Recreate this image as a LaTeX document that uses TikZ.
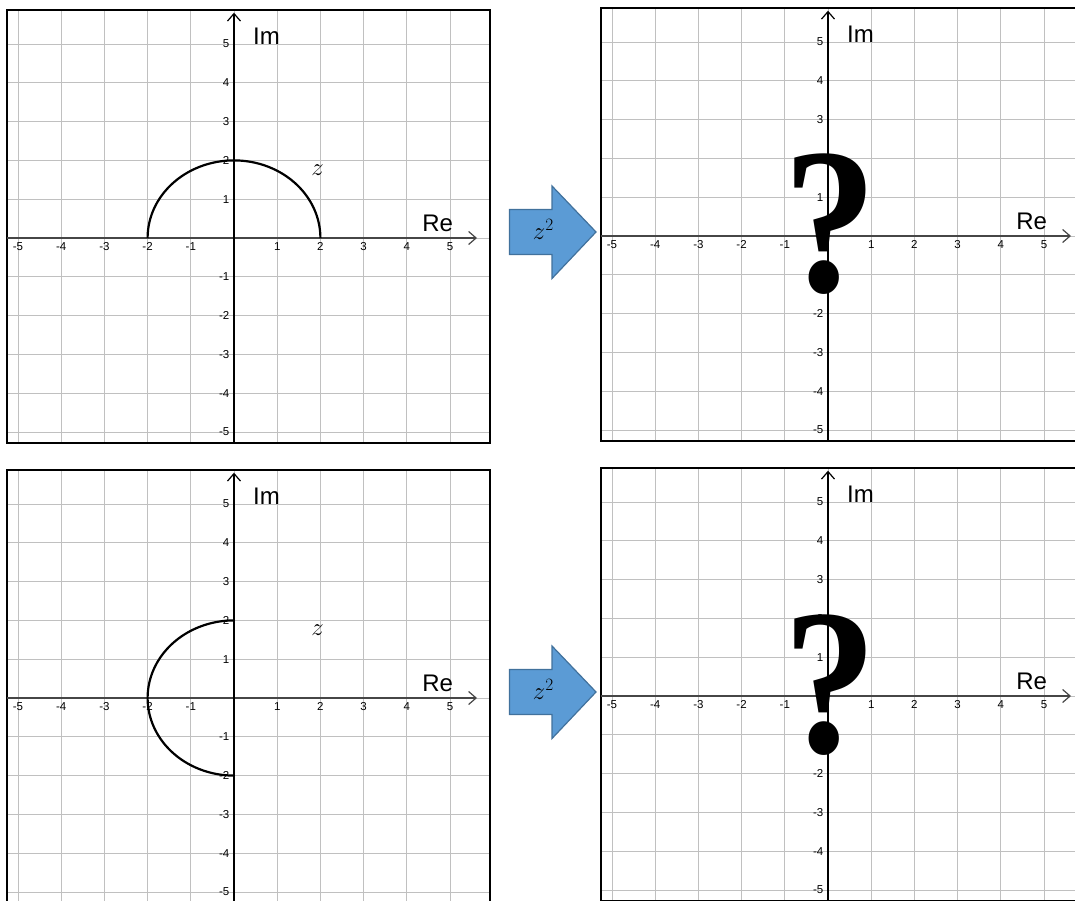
\documentclass[tikz,border=0pt]{standalone}
\usepackage{fontspec}
\setmainfont{Liberation Sans}
\newfontfamily\qfont{Liberation Serif}
\usetikzlibrary{arrows.meta}
\definecolor{gridgray}{RGB}{192,192,192}
\definecolor{arrowfill}{RGB}{91,155,213}
\definecolor{arrowedge}{RGB}{65,113,156}
\definecolor{haxisgray}{RGB}{70,70,70}

\newcommand\drawplane[3]{%
\begin{scope}[shift={(#1,#2)}, x=43.2pt, y=38.8pt]
  \foreach \i in {-5,...,5} {
    \draw[gridline] (\i,-5.284) -- (\i,5.876);
    \draw[gridline] (-5.255,\i) -- (5.926,\i);
  }
  \draw[frameline] (-5.255,-5.284) rectangle (5.926,5.876);
  \coordinate (#3hl) at (-5.255,0);
  \coordinate (#3hr) at (5.625,0);
  \coordinate (#3vb) at (0,-5.284);
  \coordinate (#3vt) at (0,5.807);
  \draw[haxis] (#3hl) -- (#3hr);
  \draw[vaxis] (#3vb) -- (#3vt);
  \foreach \i [count=\k] in {-5,-4,-3,-2,-1,1,2,3,4,5} {
    \node[ticklbl, anchor=north] (#3x\k) at ([yshift=-4.5pt]\i,0) {\i};
    \node[ticklbl, anchor=east] (#3y\k) at ([xshift=-4.5pt]0,\i) {\i};
  }
  \node[axlbl] (#3im) at (0.752,5.188) {Im};
  \node[axlbl] (#3re) at (4.715,0.369) {Re};
\end{scope}}

\begin{document}
\begin{tikzpicture}[x=1pt,y=1pt,
  gridline/.style={gridgray, line width=0.9pt},
  frameline/.style={black, line width=1.8pt},
  haxis/.style={haxisgray, line width=1.8pt, -{Straight Barb[length=7.5pt,width=13pt,line width=1.2pt]}},
  vaxis/.style={black, line width=1.4pt, -{Straight Barb[length=7.5pt,width=13pt,line width=1.2pt]}},
  ticklbl/.style={font=\fontsize{11.5}{13}\selectfont, inner sep=0pt},
  axlbl/.style={font=\fontsize{24}{28}\selectfont, inner sep=0pt},
  curve/.style={line width=2.2pt, black},
  zlbl/.style={font=\fontsize{29}{34}\selectfont, inner sep=0pt},
  qmark/.style={font=\qfont\bfseries\fontsize{208}{208}\selectfont, inner sep=0pt, anchor=base, xscale=0.9, transform shape},
  bigarrow/.style={fill=arrowfill, draw=arrowedge, line width=1.2pt, line join=miter},
  arrowtext/.style={font=\fontsize{25}{30}\selectfont, inner sep=0pt}
]
\useasboundingbox (0,0) rectangle (1075,900);
\clip (0,0) rectangle (1075,900);

% panels
\drawplane{234}{662}{tl}
\drawplane{828}{664}{tr}
\drawplane{234}{202}{bl}
\drawplane{828}{204}{br}

% top-left content
\begin{scope}[shift={(234,662)}, x=43.2pt, y=38.8pt]
  \draw[curve] plot[domain=0:180, samples=90, smooth] ({2*cos(\x)},{2*sin(\x)});
  \node[zlbl] (tlz) at (1.933,1.740) {$z$};
\end{scope}

% bottom-left content
\begin{scope}[shift={(234,202)}, x=43.2pt, y=38.8pt]
  \draw[curve] plot[domain=90:270, samples=90, smooth] ({2*cos(\x)},{2*sin(\x)});
  \node[zlbl] (blz) at (1.933,1.740) {$z$};
\end{scope}

% question marks
\node[qmark] (trq) at (830.5,608) {?};
\node[qmark] (brq) at (830.5,148) {?};

% block arrows
\draw[bigarrow] (509.5,645.5) -- (509.5,690.5) -- (552,690.5) -- (552,714) -- (596,668) -- (552,621.5) -- (552,645.5) -- cycle;
\node[arrowtext] (ta) at (543.3,670.3) {$z^{2}$};
\draw[bigarrow] (509.5,185.5) -- (509.5,230.5) -- (552,230.5) -- (552,254) -- (596,208) -- (552,161.5) -- (552,185.5) -- cycle;
\node[arrowtext] (ba) at (543.3,210.3) {$z^{2}$};
\end{tikzpicture}
\end{document}
